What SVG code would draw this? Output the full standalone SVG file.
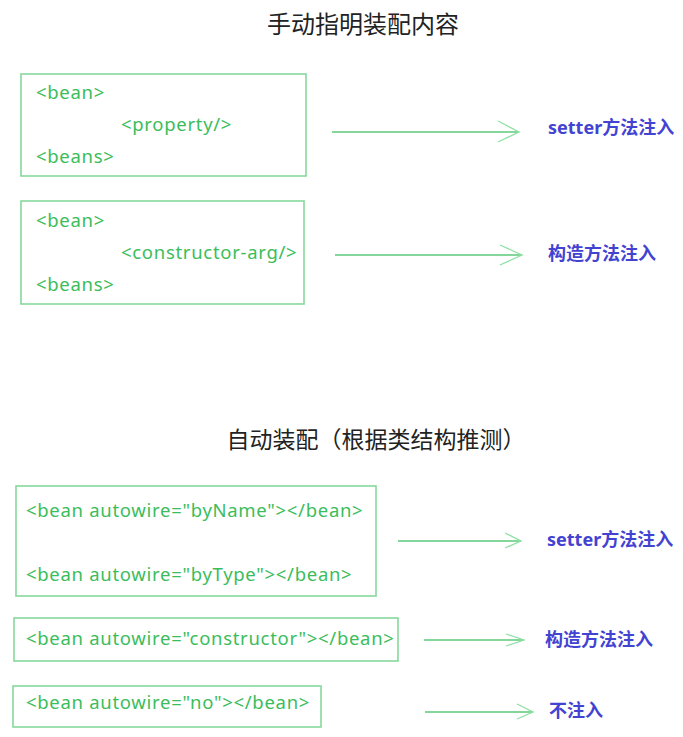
<svg xmlns="http://www.w3.org/2000/svg" width="683" height="737" viewBox="0 0 683 737">
<style>
.title{font-family:"Noto Sans CJK SC","Noto Sans",sans-serif;font-size:23px;fill:#222}
.box{fill:none;stroke:#86d99c;stroke-width:1.6}
.code{font-family:"Noto Sans","Noto Sans CJK SC",sans-serif;font-size:18.5px;letter-spacing:0.7px;fill:#3bbd5c}
.lbl{font-family:"Noto Sans","Noto Sans CJK SC",sans-serif;font-size:18px;font-weight:bold;fill:#4343d2}
.ln{stroke:#5cc87a;stroke-width:1.3;fill:none}
.hd{stroke:#8ee0a5;stroke-width:1.3;fill:none}
</style>
<rect width="683" height="737" fill="#fff"/>
<text class="title" x="363" y="33" text-anchor="middle" style="font-size:24px">手动指明装配内容</text>
<text class="title" x="376" y="448" text-anchor="middle">自动装配（根据类结构推测）</text>
<g id="node-property">
<rect class="box" x="21" y="74" width="285" height="102"/>
<text class="code" x="36" y="99">&lt;bean&gt;</text>
<text class="code" x="121" y="131">&lt;property/&gt;</text>
<text class="code" x="36" y="163">&lt;beans&gt;</text>
</g>
<g id="node-constructor-arg">
<rect class="box" x="21" y="201" width="283" height="103"/>
<text class="code" x="36" y="227">&lt;bean&gt;</text>
<text class="code" x="121" y="259">&lt;constructor-arg/&gt;</text>
<text class="code" x="36" y="291">&lt;beans&gt;</text>
</g>
<g id="node-bytype">
<rect class="box" x="16" y="486" width="360" height="110"/>
<text class="code" x="26" y="517">&lt;bean autowire="byName"&gt;&lt;/bean&gt;</text>
<text class="code" x="26" y="581">&lt;bean autowire="byType"&gt;&lt;/bean&gt;</text>
</g>
<g id="node-autowire-constructor">
<rect class="box" x="14" y="618" width="384" height="43"/>
<text class="code" x="26" y="645">&lt;bean autowire="constructor"&gt;&lt;/bean&gt;</text>
</g>
<g id="node-autowire-no">
<rect class="box" x="13" y="686" width="308" height="41"/>
<text class="code" x="26" y="709">&lt;bean autowire="no"&gt;&lt;/bean&gt;</text>
</g>
<g id="label-setter1"><text class="lbl" x="548" y="134">setter方法注入</text></g>
<g id="label-ctor1"><text class="lbl" x="548" y="260">构造方法注入</text></g>
<g id="label-setter2"><text class="lbl" x="547" y="546">setter方法注入</text></g>
<g id="label-ctor2"><text class="lbl" x="545" y="646">构造方法注入</text></g>
<g id="label-none"><text class="lbl" x="549" y="717">不注入</text></g>
<g id="connectors">
<line class="ln" x1="332" y1="132" x2="519" y2="132"/>
<polyline class="hd" points="498,121 519,132 498,142"/>
<line class="ln" x1="335" y1="255" x2="522" y2="255"/>
<polyline class="hd" points="500,245 522,255 500,265"/>
<line class="ln" x1="398" y1="541" x2="521" y2="541"/>
<polyline class="hd" points="505,533 521,541 505,548"/>
<line class="ln" x1="424" y1="640" x2="524" y2="640"/>
<polyline class="hd" points="506,634 524,640 506,646"/>
<line class="ln" x1="425" y1="712" x2="533" y2="712"/>
<polyline class="hd" points="517,704 533,712 517,719"/>
</g>
</svg>
